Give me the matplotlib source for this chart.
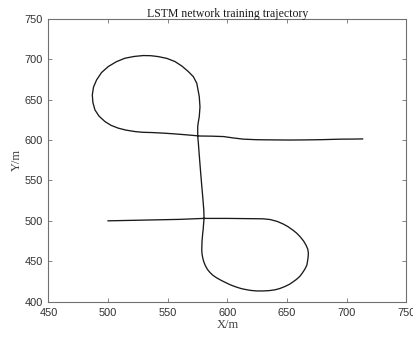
"""
LSTM network training trajectory - MATLAB-style figure recreated in matplotlib.
"""
import matplotlib
matplotlib.use("Agg")
import matplotlib.pyplot as plt

# trajectory points (metres)
traj_x = [500, 520, 540, 560, 580, 600, 630, 636, 642, 647, 651, 655, 658, 661, 664, 666, 667.5, 668,
          667.8, 667.3, 666.7, 665, 663, 661, 658, 655, 652, 648, 644, 640, 635, 630, 625, 620, 616,
          612, 608, 603, 599, 595, 591, 588, 585.5, 583.3, 581.6, 580.3, 579.4, 578.8, 578.6, 578.7, 578.8,
          579.1, 579.4, 579.8, 580, 580.5, 580.3, 579.5, 578.5, 577.7, 577, 576.3, 575.7, 575.2, 575.2,
          575.8, 576.5, 577.1, 576.5, 574.4, 571.5, 567.3, 562, 556.2, 549.5, 542.1, 536, 529.6,
          522, 514.2, 507, 500.2, 494.5, 490.4, 487.8, 486.8, 487.3, 489, 492.5, 497.4,
          502.5, 508.6, 515, 522.6, 529, 536.6, 546, 556.2, 567, 577, 587, 597, 605, 613.5,
          625, 638.6, 652, 666.7, 680, 694.6, 705, 713.5]
traj_y = [500, 500.6, 501.2, 501.8, 503, 503, 502.5, 501.6, 499.2, 496, 492.7, 488.5, 485, 480.5, 475, 470, 465, 460,
          455, 450, 445, 440, 435.5, 431.5, 427.5, 424.3, 421.3, 418.5, 416.2, 414.6, 413.6, 413.2, 413.2, 413.8, 414.8,
          416, 417.8, 420.5, 423.3, 426.2, 429.5, 432.5, 436, 440, 444.5, 449.3, 454.2, 459.2, 464, 469, 474.5,
          479.5, 484.7, 489.5, 494, 503, 513.5, 528, 545, 559, 572, 585, 597, 605, 617,
          623, 629, 641, 653.8, 670.4, 678.5, 684.8, 691.5, 697.1, 701, 703.3, 704.4, 704.6,
          703.5, 701.3, 697, 691, 683.5, 674.5, 665.5, 655.9, 646.5, 637.3, 629.5, 622.9,
          618.2, 614.7, 612.3, 610.5, 609.6, 609.3, 608.6, 607.6, 606.3, 605, 604.8, 604.3, 602.6, 601.1,
          600.4, 600.2, 600, 600.2, 600.5, 601.1, 601.2, 601.4]

x_ticks = [450, 500, 550, 600, 650, 700, 750]
y_ticks = [400, 450, 500, 550, 600, 650, 700, 750]

fig = plt.figure(figsize=(4.14, 3.37), dpi=100)
ax = fig.add_axes([0.117, 0.105, 0.864, 0.839])

ax.plot(traj_x, traj_y, color="#1a1a1a", linewidth=0.95)

ax.set_xlim(450, 750)
ax.set_ylim(400, 750)
ax.set_xticks(x_ticks)
ax.set_yticks(y_ticks)

axis_col = "#707070"
for s in ax.spines.values():
    s.set_color(axis_col)
    s.set_linewidth(0.8)
ax.tick_params(direction="in", length=3, width=0.6, color=axis_col,
               top=True, right=True, labelsize=7.9, labelcolor="#303030")
ax.tick_params(axis="x", pad=4.5)
ax.tick_params(axis="y", pad=4)
for lab in ax.get_xticklabels() + ax.get_yticklabels():
    lab.set_family(["Liberation Sans", "DejaVu Sans"])

serif = ["Liberation Serif", "DejaVu Serif"]
ax.set_title("LSTM network training trajectory", family=serif, fontsize=8.5,
             color="#1a1a1a", pad=1.5)
ax.set_xlabel("X/m", family=serif, fontsize=9, color="#404040", labelpad=1)
ax.set_ylabel("Y/m", family=serif, fontsize=9, color="#404040", labelpad=1)

plt.savefig("out.png", dpi=100)
plt.close()
